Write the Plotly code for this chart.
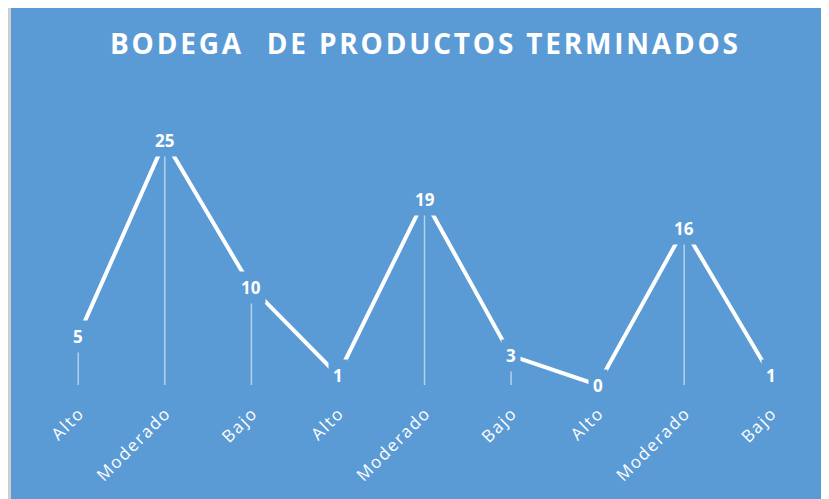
import plotly.graph_objects as go

categories = ["Alto", "Moderado", "Bajo", "Alto", "Moderado", "Bajo", "Alto", "Moderado", "Bajo"]
values = [5, 25, 10, 1, 19, 3, 0, 16, 1]
title_words = ["BODEGA", "", "DE", "PRODUCTOS", "TERMINADOS"]

BG = "#5B9BD5"
W, H = 821, 491
ML, MR, MT, MB = 27, 15, 84, 114
xs = list(range(len(categories)))

HS = "\u200a"
title_text = (HS + " " + HS).join(HS.join(w) for w in title_words)
tick_text = [HS.join(c) for c in categories]

fig = go.Figure()
fig.add_trace(go.Scatter(
    x=xs, y=values, mode="lines",
    line=dict(color="white", width=4),
    error_y=dict(type="data", symmetric=False, array=[0] * len(values),
                 arrayminus=values, width=0, thickness=1.5,
                 color="rgba(255,255,255,0.55)"),
    hoverinfo="skip", showlegend=False,
))

for x, v in zip(xs, values):
    fig.add_annotation(x=x, y=v, text=f"<b>{v}</b>", showarrow=False,
                       font=dict(family="Open Sans", size=17, color="white"),
                       bgcolor=BG, borderpad=4)

pw = W - ML - MR
ph = H - MT - MB
def px_x(p):
    return (p - ML) / pw
def px_y(p):
    return (H - MB - p) / ph

# outer frame line (left)
fig.add_shape(type="rect", xref="paper", yref="paper",
              x0=px_x(0), x1=px_x(3), y0=px_y(H), y1=px_y(0),
              fillcolor="#cfcfcf", line=dict(width=0), layer="above")

fig.update_layout(
    width=W, height=H,
    margin=dict(l=ML, r=MR, t=MT, b=MB, autoexpand=False),
    paper_bgcolor=BG, plot_bgcolor=BG,
    title=dict(text=f"<b>{title_text}</b>", x=(424 - 8) / W, xanchor="center",
               y=1 - 36 / H, yanchor="middle",
               font=dict(family="Open Sans", size=28, color="white")),
    xaxis=dict(range=[-0.5, 8.5], tickvals=xs, ticktext=tick_text,
               tickangle=-45, showgrid=False, zeroline=False, showline=False,
               ticks="", ticklabelstandoff=15, automargin=False,
               tickfont=dict(family="Open Sans", size=17, color="white")),
    yaxis=dict(range=[0, 30], visible=False, fixedrange=True, automargin=False),
)

fig.write_html("out.html")
